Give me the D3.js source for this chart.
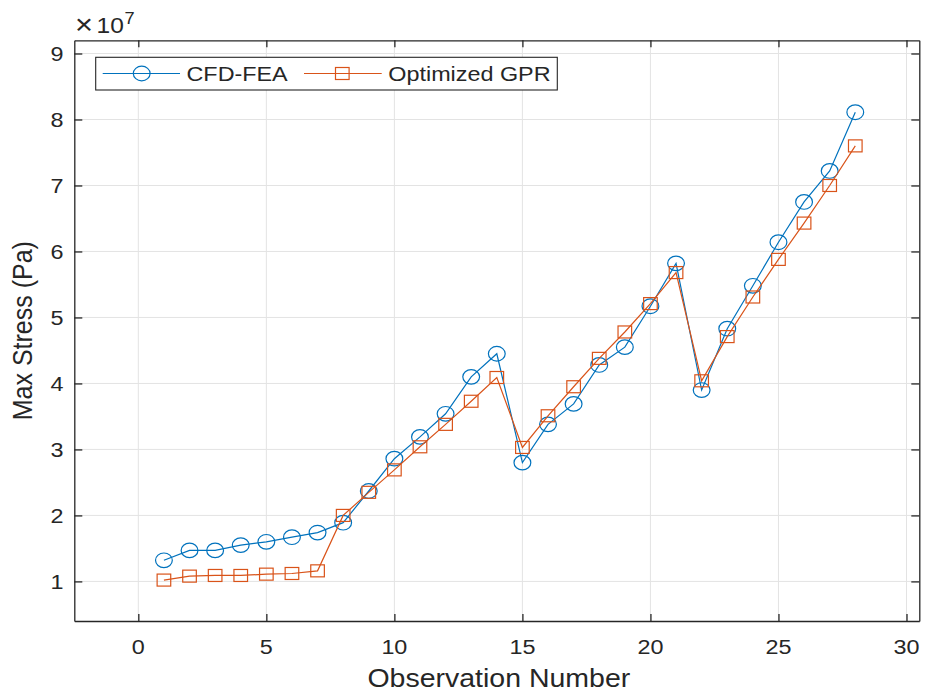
<!DOCTYPE html>
<html><head><meta charset="utf-8">
<script src="https://cdn.jsdelivr.net/npm/d3@7"></script>
<style>body{margin:0;background:#fff}svg{display:block}text{font-family:"Liberation Sans",Arial,sans-serif;fill:#262626}</style>
</head><body>
<script>
const observations = [1,2,3,4,5,6,7,8,9,10,11,12,13,14,15,16,17,18,19,20,21,22,23,24,25,26,27,28];
const cfdFea = [1.32,1.47,1.47,1.55,1.60,1.67,1.74,1.89,2.37,2.86,3.19,3.54,4.10,4.45,2.80,3.38,3.69,4.28,4.55,5.17,5.82,3.90,4.83,5.48,6.14,6.75,7.22,8.11].map(v=>v*1e7);
const optGpr = [1.02,1.08,1.09,1.09,1.11,1.12,1.16,2.00,2.35,2.69,3.04,3.38,3.73,4.09,3.03,3.51,3.95,4.38,4.78,5.21,5.68,4.04,4.71,5.31,5.88,6.43,7.00,7.60].map(v=>v*1e7);
const xTicks = [0,5,10,15,20,25,30];
const yTicks = [1,2,3,4,5,6,7,8,9].map(v=>v*1e7);
const seriesNames = ["CFD-FEA","Optimized GPR"];
const colors = ["#0072BD","#D95319"];

const W=925,H=692, SX=1.14;
const L=74.3,R=919.3,T=40.3,B=621;
const svg=d3.select("body").append("svg").attr("width",W).attr("height",H);
const x=d3.scaleLinear().domain([-2.5,30.5]).range([L,R]);
const y=d3.scaleLinear().domain([0.4e7,9.2e7]).range([B,T]);

function stxt(g,tx,ty,str,size,anchor,rot){
  return g.append("text").attr("transform",`translate(${tx},${ty}) scale(${SX},1)`+(rot?` rotate(${rot})`:""))
    .attr("text-anchor",anchor).attr("font-size",size).style("font-size",size+"px").text(str);
}

// grid
const grid=svg.append("g");
grid.selectAll("line.gx").data(xTicks).join("line").attr("x1",d=>x(d)).attr("x2",d=>x(d)).attr("y1",T).attr("y2",B).attr("stroke","#e3e3e3").attr("stroke-width",1);
grid.selectAll("line.gy").data(yTicks).join("line").attr("y1",d=>y(d)).attr("y2",d=>y(d)).attr("x1",L).attr("x2",R).attr("stroke","#e3e3e3").attr("stroke-width",1);

// axes via d3 axis (ticks inward)
const ax=svg.append("g");
ax.append("g").attr("transform",`translate(0,${B})`).call(d3.axisBottom(x).tickValues(xTicks).tickSizeInner(-7).tickSizeOuter(0).tickFormat(""));
ax.append("g").attr("transform",`translate(0,${T})`).call(d3.axisTop(x).tickValues(xTicks).tickSizeInner(-7).tickSizeOuter(0).tickFormat(""));
ax.append("g").attr("transform",`translate(${L},0)`).call(d3.axisLeft(y).tickValues(yTicks).tickSizeInner(-8).tickSizeOuter(0).tickFormat(""));
ax.append("g").attr("transform",`translate(${R},0)`).call(d3.axisRight(y).tickValues(yTicks).tickSizeInner(-8).tickSizeOuter(0).tickFormat(""));
ax.selectAll(".domain").attr("stroke","#262626").attr("stroke-width",1.3);
ax.selectAll(".tick line").attr("stroke","#262626").attr("stroke-width",1.3);

// tick labels
const lab=svg.append("g");
xTicks.forEach(t=>stxt(lab,x(t),654,String(t),20.5,"middle"));
yTicks.forEach(t=>stxt(lab,63.5,y(t)+7.5,String(t/1e7),20.5,"end"));

// exponent
stxt(lab,75,34,"×",27,"start");
stxt(lab,96.5,33,"10",21.5,"start");
stxt(lab,124.5,23.5,"7",16,"start");

// axis titles
stxt(lab,(L+R)/2+2,687,"Observation Number",25,"middle");
svg.append("text").attr("transform",`translate(32,${(T+B)/2}) scale(${SX},1) rotate(-90)`).attr("text-anchor","middle").style("font-size","25px").text("Max Stress (Pa)");

// series
const data=[cfdFea,optGpr];
const line=d3.line().x((d,i)=>x(observations[i])).y(d=>y(d));
data.forEach((vals,si)=>{
  const g=svg.append("g");
  g.append("path").attr("d",line(vals)).attr("fill","none").attr("stroke",colors[si]).attr("stroke-width",1.2);
  if(si===0){
    g.selectAll("ellipse").data(vals).join("ellipse").attr("cx",(d,i)=>x(observations[i])).attr("cy",d=>y(d)).attr("rx",8.4).attr("ry",7.3).attr("fill","none").attr("stroke",colors[si]).attr("stroke-width",1.2);
  } else {
    g.selectAll("rect").data(vals).join("rect").attr("x",(d,i)=>x(observations[i])-6.8).attr("y",d=>y(d)-6).attr("width",13.6).attr("height",12).attr("fill","none").attr("stroke",colors[si]).attr("stroke-width",1.2);
  }
});

// legend
const lg=svg.append("g");
lg.append("rect").attr("x",95.7).attr("y",57.3).attr("width",461.6).attr("height",32.7).attr("fill","#fff").attr("stroke","#262626").attr("stroke-width",1.1);
const ly=73.5;
const items=[{x1:102.7,x2:180,mx:141.7,tx:186.5},{x1:304,x2:381.7,mx:342.3,tx:388.3}];
items.forEach((it,i)=>{
  lg.append("line").attr("x1",it.x1).attr("x2",it.x2).attr("y1",ly).attr("y2",ly).attr("stroke",colors[i]).attr("stroke-width",1.2);
  if(i===0) lg.append("ellipse").attr("cx",it.mx).attr("cy",ly).attr("rx",8.4).attr("ry",7.3).attr("fill","none").attr("stroke",colors[i]).attr("stroke-width",1.2);
  else lg.append("rect").attr("x",it.mx-6.8).attr("y",ly-6).attr("width",13.6).attr("height",12).attr("fill","none").attr("stroke",colors[i]).attr("stroke-width",1.2);
  stxt(lg,it.tx,ly+7.3,seriesNames[i],20.5,"start");
});
</script>
</body></html>
